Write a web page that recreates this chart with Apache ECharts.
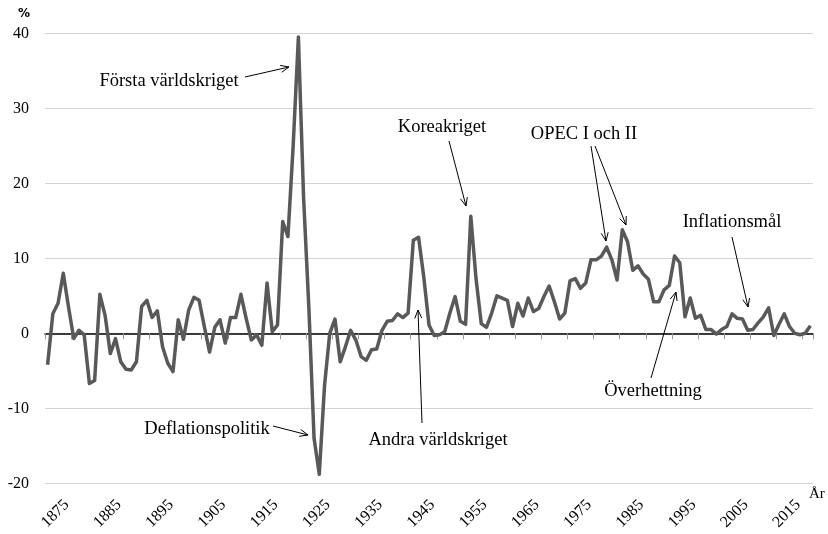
<!DOCTYPE html>
<html>
<head>
<meta charset="utf-8">
<script src="https://cdn.jsdelivr.net/npm/echarts@6/dist/echarts.min.js"></script>
<style>
html,body{margin:0;padding:0;background:#fff;}
#chart{width:828px;height:534px;}
</style>
</head>
<body>
<div id="chart"></div>
<script>
// ---- data ----
var startYear = 1870;
var endYear = 2016;
var years = [];
for (var y = startYear; y <= endYear; y++) years.push(String(y));

var inflation = [
  -4.2, 2.6, 4.0, 8.0, 3.5, -0.7, 0.4, -0.2, -6.7, -6.3,      // 1870-1879
  5.2, 2.4, -2.7, -0.7, -3.8, -4.8, -4.9, -3.8, 3.6, 4.4,     // 1880-1889
  2.1, 3.0, -1.8, -4.0, -5.1, 1.8, -0.8, 3.1, 4.8, 4.4,       // 1890-1899
  0.9, -2.5, 0.8, 1.8, -1.3, 2.1, 2.1, 5.2, 2.0, -0.9,        // 1900-1909
  -0.2, -1.6, 6.7, 0.2, 1.1, 14.9, 12.9, 25.0, 39.5, 18.0,    // 1910-1919
  3.5, -14.0, -18.8, -7.0, 0.0, 1.9, -3.8, -1.8, 0.4, -0.9,   // 1920-1929
  -3.1, -3.6, -2.2, -2.1, 0.4, 1.6, 1.7, 2.6, 2.1, 2.7,       // 1930-1939
  12.4, 12.8, 7.5, 1.1, -0.3, -0.2, 0.2, 2.7, 4.9, 1.6,       // 1940-1949
  1.2, 15.6, 7.3, 1.3, 0.8, 2.7, 5.0, 4.7, 4.4, 0.9,          // 1950-1959
  4.0, 2.3, 4.7, 2.9, 3.3, 4.9, 6.3, 4.2, 1.9, 2.7,           // 1960-1969
  7.0, 7.3, 6.0, 6.7, 9.8, 9.8, 10.3, 11.5, 9.8, 7.1,         // 1970-1979
  13.8, 12.2, 8.4, 9.0, 7.9, 7.2, 4.2, 4.2, 5.8, 6.4,         // 1980-1989
  10.3, 9.4, 2.2, 4.7, 2.0, 2.4, 0.5, 0.5, -0.1, 0.5,         // 1990-1999
  0.9, 2.6, 2.0, 1.9, 0.4, 0.5, 1.4, 2.2, 3.4, -0.3,          // 2000-2009
  1.2, 2.6, 0.9, 0.0, -0.2, 0.0, 1.0                          // 2010-2016
];

var labelYears = ['1875','1885','1895','1905','1915','1925','1935','1945','1955','1965','1975','1985','1995','2005','2015'];
var yMin = -20, yMax = 40, yStep = 10;

var annotations = [
  {text: 'Första världskriget', x: 169, y: 81, arrows: [[245, 77, 289, 67]]},
  {text: 'Koreakriget', x: 442, y: 127, arrows: [[449, 141, 466, 206]]},
  {text: 'OPEC I och II', x: 584, y: 134, arrows: [[591, 146, 606, 241], [595, 146, 626, 225]]},
  {text: 'Inflationsmål', x: 732, y: 222, arrows: [[732, 237, 748, 307]]},
  {text: 'Överhettning', x: 653, y: 391, arrows: [[651, 378, 676, 292]]},
  {text: 'Deflationspolitik', x: 207, y: 429, arrows: [[273, 426, 308, 435]]},
  {text: 'Andra världskriget', x: 438, y: 440, arrows: [[422, 423, 418, 310]]}
];

var FONT = '"Liberation Serif", "DejaVu Serif", serif';

function arrowGraphics(a) {
  var x1 = a[0], y1 = a[1], x2 = a[2], y2 = a[3];
  var ang = Math.atan2(y2 - y1, x2 - x1);
  var L = 9, spread = 0.4;
  var p1 = [x2 - L * Math.cos(ang - spread), y2 - L * Math.sin(ang - spread)];
  var p2 = [x2 - L * Math.cos(ang + spread), y2 - L * Math.sin(ang + spread)];
  return [
    {type: 'line', shape: {x1: x1, y1: y1, x2: x2, y2: y2}, style: {stroke: '#000', lineWidth: 1}, z: 100},
    {type: 'polyline', shape: {points: [p1, [x2, y2], p2]}, style: {stroke: '#000', lineWidth: 1, fill: null}, z: 100}
  ];
}

var graphics = [
  {type: 'text', left: 18, top: 8, style: {text: '%', font: 'bold 12px "DejaVu Sans", sans-serif', fill: '#000'}},
  {type: 'text', left: 809, top: 487, style: {text: 'År', font: '15px ' + FONT, fill: '#000'}}
];
annotations.forEach(function (an) {
  graphics.push({type: 'text', x: an.x, y: an.y, style: {text: an.text, font: '18.5px ' + FONT, fill: '#000', align: 'center', verticalAlign: 'middle'}, z: 100});
  an.arrows.forEach(function (ar) { graphics = graphics.concat(arrowGraphics(ar)); });
});

var chart = echarts.init(document.getElementById('chart'), null, {renderer: 'canvas'});
chart.setOption({
  animation: false,
  backgroundColor: '#fff',
  grid: {left: 45, right: 15, top: 33.3, bottom: 50.7, containLabel: false},
  xAxis: [
    {
      type: 'category', data: years, boundaryGap: true,
      axisLine: {show: true, onZero: true, lineStyle: {color: '#000', width: 1.5}},
      axisTick: {show: true, length: 6, interval: function (i) { return i % 5 === 0; }, lineStyle: {color: '#999', width: 1}},
      axisLabel: {show: false},
      splitLine: {show: false}
    },
    {
      type: 'category', data: years, boundaryGap: true, position: 'bottom',
      axisLine: {show: false, onZero: false},
      axisTick: {show: false},
      axisLabel: {
        show: true, rotate: 45, margin: 12, padding: [0, 10, 0, 0],
        interval: function (i, v) { return labelYears.indexOf(v) >= 0; },
        fontFamily: FONT, fontSize: 16, color: '#000'
      },
      splitLine: {show: false}
    }
  ],
  yAxis: {
    type: 'value', min: yMin, max: yMax, interval: yStep,
    axisLine: {show: false}, axisTick: {show: false},
    axisLabel: {fontFamily: FONT, fontSize: 16, color: '#000', margin: 16},
    splitLine: {show: true, lineStyle: {color: '#d4d4d4', width: 1}}
  },
  series: [{
    type: 'line', xAxisIndex: 0, data: inflation,
    showSymbol: false, symbol: 'none',
    lineStyle: {color: '#595959', width: 3.5, join: 'round'},
    z: 5
  }],
  graphic: graphics
});
</script>
</body>
</html>
